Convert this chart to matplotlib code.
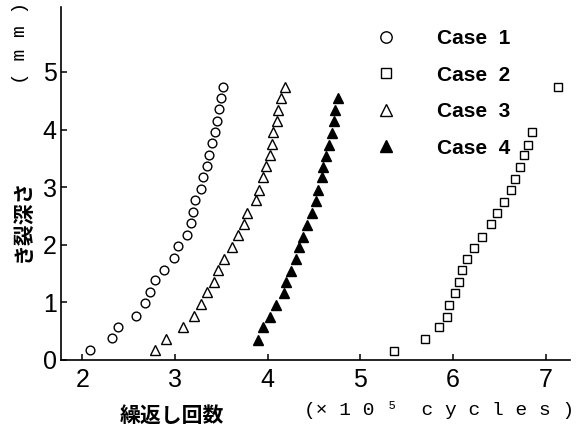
import matplotlib
matplotlib.use("Agg")
import matplotlib.pyplot as plt

# き裂深さ (mm) と繰返し回数 (x10^5 cycles)
case1_n = [2.08, 2.32, 2.39, 2.58, 2.68, 2.73, 2.78, 2.88, 2.99, 3.03, 3.13, 3.17,
           3.19, 3.22, 3.28, 3.30, 3.34, 3.37, 3.40, 3.43, 3.45, 3.47, 3.50, 3.52]
case1_a = [0.17, 0.38, 0.58, 0.77, 0.98, 1.18, 1.38, 1.57, 1.77, 1.97, 2.17, 2.37,
           2.57, 2.77, 2.97, 3.17, 3.36, 3.55, 3.76, 3.95, 4.15, 4.35, 4.54, 4.74]

case2_n = [5.36, 5.70, 5.85, 5.93, 5.96, 6.02, 6.06, 6.10, 6.15, 6.23, 6.31,
           6.41, 6.47, 6.55, 6.62, 6.67, 6.72, 6.76, 6.81, 6.85, 7.13]
case2_a = [0.16, 0.36, 0.57, 0.75, 0.95, 1.16, 1.36, 1.56, 1.75, 1.95, 2.14,
           2.36, 2.55, 2.74, 2.95, 3.15, 3.35, 3.55, 3.74, 3.95, 4.73]

case3_n = [2.78, 2.90, 3.09, 3.20, 3.28, 3.34, 3.42, 3.46, 3.53, 3.61, 3.68, 3.74,
           3.78, 3.87, 3.91, 3.95, 3.98, 4.02, 4.05, 4.06, 4.10, 4.11, 4.14, 4.19]
case3_a = [0.17, 0.37, 0.58, 0.76, 0.97, 1.18, 1.36, 1.56, 1.75, 1.96, 2.17, 2.36,
           2.55, 2.77, 2.95, 3.17, 3.36, 3.55, 3.75, 3.95, 4.15, 4.34, 4.54, 4.73]

case4_n = [3.90, 3.95, 4.03, 4.09, 4.18, 4.20, 4.25, 4.30, 4.34, 4.38, 4.42,
           4.48, 4.52, 4.54, 4.59, 4.60, 4.63, 4.66, 4.69, 4.71, 4.73, 4.76]
case4_a = [0.35, 0.57, 0.75, 0.95, 1.16, 1.36, 1.55, 1.75, 1.96, 2.14, 2.34,
           2.55, 2.76, 2.95, 3.17, 3.35, 3.54, 3.74, 3.94, 4.14, 4.34, 4.54]

labels = ["Case  1", "Case  2", "Case  3", "Case  4"]
x_ticks = [2, 3, 4, 5, 6, 7]
y_ticks = [0, 1, 2, 3, 4, 5]

num_font = ["Liberation Sans", "DejaVu Sans"]
jp_font = ["Noto Sans CJK JP", "DejaVu Sans"]
mono_font = ["Liberation Mono", "DejaVu Sans Mono"]

fig = plt.figure(figsize=(5.83, 4.28), dpi=100)
ax = fig.add_axes([0.1046, 0.159, 0.873, 0.825])

style = dict(linestyle="none", markeredgecolor="black", markeredgewidth=1.0)
ax.plot(case1_n, case1_a, marker="o", markersize=6.3, markerfacecolor="white",
        label=labels[0], **style)
ax.plot(case2_n, case2_a, marker="s", markersize=5.6, markerfacecolor="white",
        label=labels[1], **style)
ax.plot(case3_n, case3_a, marker="^", markersize=6.8, markerfacecolor="white",
        label=labels[2], **style)
ax.plot(case4_n, case4_a, marker="^", markersize=6.8, markerfacecolor="black",
        label=labels[3], **style)

ax.set_xlim(1.77, 7.26)
ax.set_ylim(0, 6.13)
ax.set_xticks(x_ticks)
ax.set_yticks(y_ticks)
ax.set_xticklabels([str(t) for t in x_ticks], family=num_font, fontsize=18)
ax.set_yticklabels([str(t) for t in y_ticks], family=num_font, fontsize=18)
ax.tick_params(axis="x", direction="in", length=4, width=1.1, pad=6)
ax.tick_params(axis="y", direction="in", length=4, width=1.1, pad=3)

for side in ["top", "right"]:
    ax.spines[side].set_visible(False)
for side in ["left", "bottom"]:
    ax.spines[side].set_linewidth(1.2)

leg = ax.legend(loc="upper left", bbox_to_anchor=(0.6175, 0.937), frameon=False,
                handlelength=1.0, handletextpad=1.95, labelspacing=0.84,
                borderpad=0, borderaxespad=0, markerscale=1.3,
                prop={"family": num_font, "size": 15, "weight": "bold"})

# 軸ラベル
fig.text(0.295, 0.030, "繰返し回数", family=jp_font, fontsize=15,
         fontweight="bold", ha="center", va="center")
fig.text(0.753, 0.042, "(× 1 0 ⁵  c y c l e s )", family=mono_font, fontsize=14,
         ha="center", va="center")
fig.text(0.038, 0.486, "き裂深さ", family=jp_font, fontsize=15,
         fontweight="bold", rotation=90, ha="center", va="center")
fig.text(0.036, 0.90, "( m m )", family=mono_font, fontsize=14,
         rotation=90, ha="center", va="center")

fig.savefig("out.png", dpi=100)
